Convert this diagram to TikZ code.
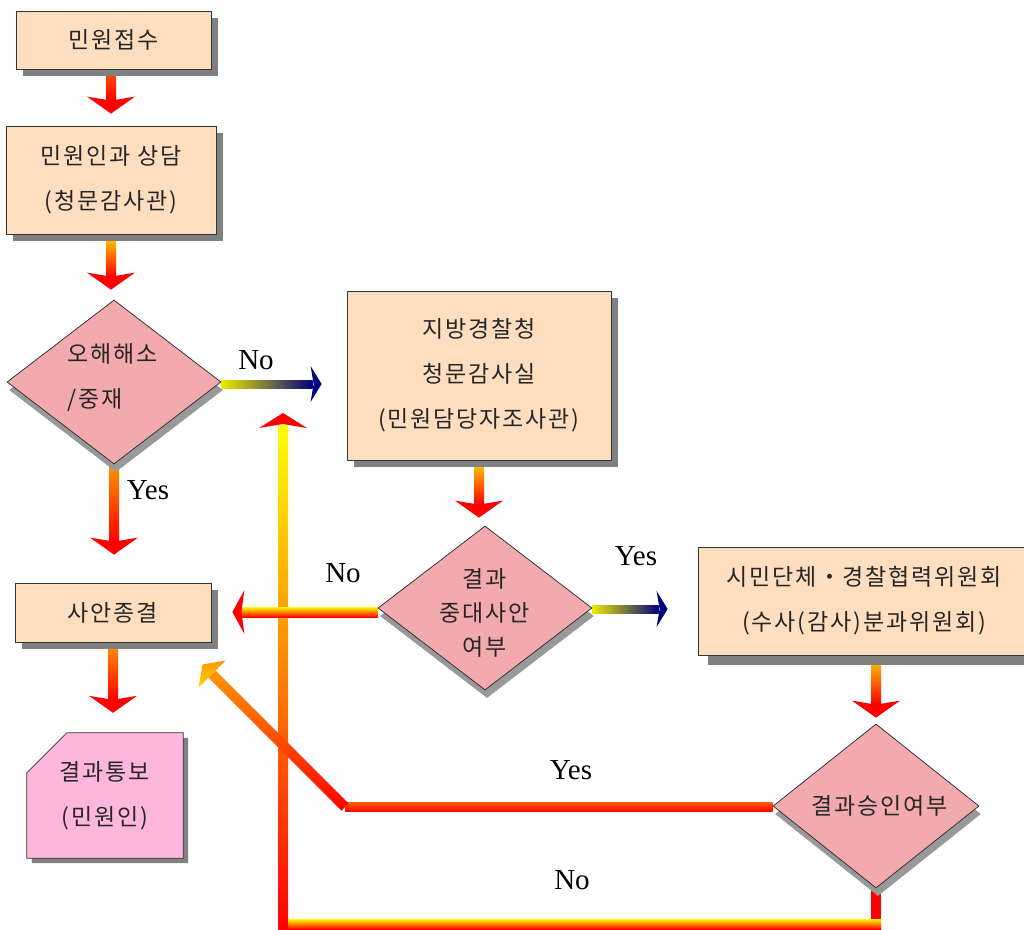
\documentclass[tikz,border=0pt]{standalone}
\usepackage{fontspec}
\setmainfont{Liberation Serif}
\newfontfamily\kr[LetterSpace=8]{Noto Sans CJK KR}
\usetikzlibrary{shapes.geometric,shadows,calc,backgrounds}

\definecolor{peach}{RGB}{255,222,192}
\definecolor{rose}{RGB}{243,170,174}
\definecolor{pinkdoc}{RGB}{255,182,220}
\definecolor{shadowgray}{RGB}{128,128,128}
\definecolor{dshadow}{RGB}{153,153,153}
\definecolor{lemon}{RGB}{235,235,0}
\definecolor{navyblue}{RGB}{0,0,128}
\definecolor{ember}{RGB}{255,90,0}
\definecolor{amber}{RGB}{255,150,0}
\definecolor{gold}{RGB}{255,215,0}

\tikzset{
  box/.style={rectangle, draw=black!80, line width=0.8pt, fill=peach, inner sep=0pt,
    font=\kr\fontsize{23}{45}\selectfont, text=black!85, align=center,
    drop shadow={shadow xshift=#1, shadow yshift=-#1, fill=shadowgray, opacity=1}},
  box/.default=7pt,
  decision/.style={diamond, draw=black!85, line width=0.7pt, fill=rose, inner sep=0pt,
    drop shadow={shadow xshift=2pt, shadow yshift=-8pt, fill=dshadow, opacity=1}},
  dtext/.style={font=\kr\fontsize{23}{34}\selectfont, text=black!85, align=center},
  doctext/.style={font=\kr\fontsize{23}{45}\selectfont, text=black!85, align=center},
  tag/.style={font=\fontsize{29}{30}\selectfont, text=black},
}

% downward flow arrow: start point, tip point, colour at the top of the shaft
\newcommand\flowdown[3]{%
  \shade[top color=#3, bottom color=red] let \p1=(#1), \p2=(#2) in
    (\x1-5pt,\y1) rectangle (\x1+5pt,\y2+13pt);
  \fill[red] let \p1=(#1), \p2=(#2) in
    (\x1-24pt,\y2+17pt) -- (\x1,\y2+13pt) -- (\x1+24pt,\y2+17pt) -- (\x1,\y2) -- cycle;
}
% rightward flow arrow, yellow fading into navy
\newcommand\flowright[2]{%
  \shade[left color=lemon, right color=navyblue] let \p1=(#1), \p2=(#2) in
    (\x1,\y1-6pt) rectangle (\x2-9pt,\y1+2pt);
  \fill[navyblue] let \p1=(#1), \p2=(#2) in
    (\x2-11pt,\y1+16pt) -- (\x2,\y1-2pt) -- (\x2-11pt,\y1-20pt) -- (\x2-8pt,\y1-2pt) -- cycle;
}

\begin{document}
\begin{tikzpicture}[x=1pt,y=-1pt]
\useasboundingbox (0,0) rectangle (1024,929);

% ---- process boxes
\node[box, minimum width=195pt, minimum height=58pt] (recv) at (113.5,40) {민원접수};
\node[box, minimum width=210pt, minimum height=108pt] (consult) at (111,180) {민원인과 상담\\(청문감사관)};
\node[box, minimum width=264pt, minimum height=169pt] (office) at (479,375.5)
  {지방경찰청\\청문감사실\\(민원담당자조사관)};
\node[box, minimum width=196pt, minimum height=59pt] (close) at (113,612.5) {사안종결};
\node[box=10pt, minimum width=332pt, minimum height=108pt] (committee) at (864,601)
  {시민단체・경찰협력위원회\\(수사(감사)분과위원회)};

% ---- decisions
\node[decision, minimum width=214pt, minimum height=164pt] (resolve) at (114,382) {};
\node[dtext, align=left, font=\kr\fontsize{23}{45}\selectfont] (resolveTxt) at (113,378) {오해해소\\/중재};
\node[decision, minimum width=214pt, minimum height=164pt] (grave) at (485,608) {};
\node[dtext] (graveTxt) at (485,613) {결과\\중대사안\\여부};
\node[decision, minimum width=206pt, minimum height=164pt] (approve) at (876,806) {};
\node[dtext] (approveTxt) at (880,806) {결과승인여부};

% ---- notification document (cut corner)
\node[doctext, minimum width=156pt, minimum height=125pt, inner sep=0pt] (notice) at (105,795.5)
  {결과통보\\(민원인)};

% ---- branch labels
\node[tag] (noA) at (256,360) {No};
\node[tag] (yesA) at (148,490) {Yes};
\node[tag] (noB) at (343,573) {No};
\node[tag] (yesB) at (636,556) {Yes};
\node[tag] (yesC) at (571,770) {Yes};
\node[tag] (noC) at (572,880) {No};

% ---- free ends and bends of the return lines
\coordinate (loopTip) at (283,413);
\coordinate (loopCorner) at (283,924);
\coordinate (yesBend) at (345,807);
\coordinate (yesHead) at ($(yesBend)+(-133,-133)$);

\begin{pgfonlayer}{background}
  \fill[white] (0,0) rectangle (1024,929);

  % document shape with its shadow
  \fill[shadowgray] ($(notice.north west)+(5,45)$) -- ($(notice.north west)+(45,5)$)
    -- ($(notice.north east)+(5,5)$) -- ($(notice.south east)+(5,5)$) -- ($(notice.south west)+(5,5)$) -- cycle;
  \filldraw[fill=pinkdoc, draw=black!80, line width=0.8pt]
    ($(notice.north west)+(0,40)$) -- ($(notice.north west)+(40,0)$)
    -- (notice.north east) -- (notice.south east) -- (notice.south west) -- cycle;

  % "No" return loop from the approval decision
  \fill[red] ($(approve.south)+(-5,0)$) rectangle ($(approve.south |- loopCorner)+(5,0)$);
  \shade[top color=yellow, bottom color=red] ($(loopTip)+(-5,12)$) rectangle ($(loopCorner)+(5,5)$);
  \shade[top color=yellow, bottom color=red] ($(loopCorner)+(5,-5)$) rectangle ($(approve.south |- loopCorner)+(5,5)$);
  \fill[red] ($(loopTip)+(-24,15)$) -- ($(loopTip)+(0,11)$) -- ($(loopTip)+(24,15)$) -- (loopTip) -- cycle;

  % "No" from the gravity decision to case closing
  \shade[top color=yellow, bottom color=red] let \p1=(grave.west), \p2=(close.east) in
    (\x2+30pt,\y1-9pt) rectangle (\x1,\y1+1pt);
  \fill[red] let \p1=(grave.west), \p2=(close.east) in
    (\x2+33pt,\y1+18pt) -- (\x2+21pt,\y1-4pt) -- (\x2+33pt,\y1-26pt) -- (\x2+30pt,\y1-4pt) -- cycle;

  % "Yes" return from the approval decision to case closing
  \shade[top color=ember, middle color=gold, bottom color=red]
    ($(yesBend)+(0,-4.5)$) rectangle ($(approve.west |- yesBend)+(0,4.5)$);
  \shade[top color=amber, middle color=gold, bottom color=red]
    ($(yesBend)+(3.6,-3.6)$) -- ($(yesBend)+(-3.6,3.6)$) -- ($(yesHead)+(-3.6,3.6)$) -- ($(yesHead)+(3.6,-3.6)$) -- cycle;
  \shade[top color=amber, bottom color=gold]
    ($(yesHead)+(-9.5,-9.5)$) -- ($(yesHead)+(13.4,-13.4)$) -- ($(yesHead)+(-13.4,13.4)$) -- cycle;

  % straight flow arrows
  \flowdown{recv.south -| consult.north}{$(consult.north)+(0,-12)$}{ember}
  \flowdown{consult.south}{$(resolve.north)+(0,-10)$}{gold}
  \flowdown{resolve.south}{$(close.north)+(0,-28)$}{amber}
  \flowdown{close.south}{$(notice.north)+(0,-20)$}{amber}
  \flowdown{office.south}{$(grave.north)+(0,-8)$}{gold}
  \flowdown{committee.south -| approve.north}{$(approve.north)+(0,-6)$}{gold}
  \flowright{resolve.east}{$(resolve.east -| office.west)+(-25,0)$}
  \flowright{$(grave.east)+(0,-1)$}{$(grave.east -| committee.west)+(-30,0)$}
\end{pgfonlayer}
\end{tikzpicture}
\end{document}
